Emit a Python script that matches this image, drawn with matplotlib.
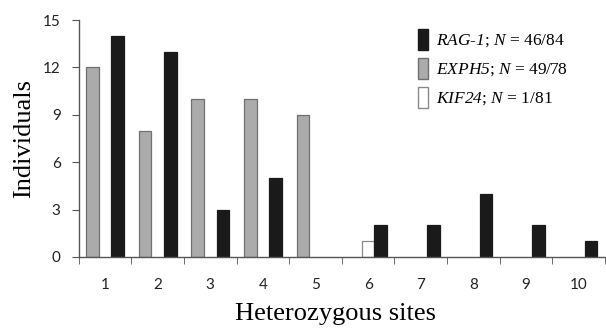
import numpy as np
import matplotlib
matplotlib.use("Agg")
import matplotlib.pyplot as plt
from matplotlib.patches import Patch

# Data
sites = [1, 2, 3, 4, 5, 6, 7, 8, 9, 10]
exph5 = [12, 8, 10, 10, 9, 0, 0, 0, 0, 0]
kif24 = [0, 0, 0, 0, 0, 1, 0, 0, 0, 0]
rag1 = [14, 13, 3, 5, 0, 2, 2, 4, 2, 1]
labels = [r"$RAG$-$1$; $N$ = 46/84",
          r"$EXPH5$; $N$ = 49/78",
          r"$KIF24$; $N$ = 1/81"]

# gene names in italic (digits too), the rest upright
plt.rcParams['mathtext.fontset'] = 'custom'
plt.rcParams['mathtext.rm'] = 'Liberation Serif:italic'
plt.rcParams['mathtext.it'] = 'Liberation Serif:italic'

fig = plt.figure(figsize=(6.06, 3.29), dpi=100)
ax = fig.add_axes([0.130, 0.219, 0.868, 0.720])

x = np.array(sites)
w = 0.24
gray_face, gray_edge = '#ababab', '#707070'
black = '#1a1a1a'

# only draw bars that are non-zero, like the original
for xi, v in zip(x, exph5):
    if v:
        ax.bar(xi - w, v, width=w, color=gray_face, edgecolor=gray_edge, linewidth=0.9)
for xi, v in zip(x, kif24):
    if v:
        ax.bar(xi, v, width=w, color='white', edgecolor='#8a8a8a', linewidth=0.9)
for xi, v in zip(x, rag1):
    if v:
        ax.bar(xi + w, v, width=w, color=black, edgecolor=black, linewidth=0.9)

ax.set_xlim(0.5, 10.5)
ax.set_ylim(0, 15)
ax.set_yticks([0, 3, 6, 9, 12, 15])
ax.set_xticks(sites)
ax.set_xticks(np.arange(0.5, 11, 1), minor=True)

for side in ['top', 'right']:
    ax.spines[side].set_visible(False)
for side in ['left', 'bottom']:
    ax.spines[side].set_color('#555555')
    ax.spines[side].set_linewidth(1.0)

ax.tick_params(axis='x', which='major', length=0, pad=15, labelsize=11, labelcolor='#222222')
ax.tick_params(axis='x', which='minor', length=5, direction='out', color='#555555')
ax.tick_params(axis='y', length=5, direction='out', color='#555555',
               labelsize=11, labelcolor='#222222', pad=8)
for lab in ax.get_xticklabels() + ax.get_yticklabels():
    lab.set_fontfamily('Lato')

ax.set_ylabel('Individuals', fontsize=19, fontfamily='Liberation Serif', labelpad=6)
ax.set_xlabel('Heterozygous sites', fontsize=19, fontfamily='Liberation Serif', labelpad=8)
ax.xaxis.label.set_x(0.488)

handles = [Patch(facecolor=black, edgecolor=black),
           Patch(facecolor=gray_face, edgecolor=gray_edge),
           Patch(facecolor='white', edgecolor='#8a8a8a')]
ax.legend(handles, labels, loc='upper left', bbox_to_anchor=(0.615, 1.03),
          frameon=False, handlelength=0.6, handleheight=1.5, handletextpad=0.45,
          labelspacing=0.45, prop={'family': 'Liberation Serif', 'size': 12.5})

fig.savefig('out.png', dpi=100)
